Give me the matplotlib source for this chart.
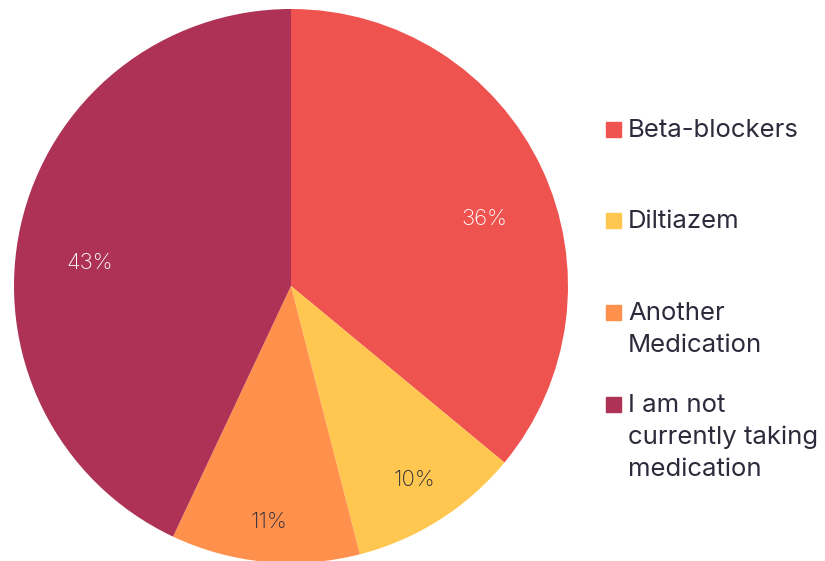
import matplotlib.pyplot as plt
import matplotlib.patches as mpatches
import numpy as np

labels = ["Beta-blockers", "Diltiazem", "Another\nMedication",
          "I am not\ncurrently taking\nmedication"]
values = [36, 10, 11, 43]
colors = ["#EF5350", "#FFC74F", "#FF914D", "#AD3256"]
pct_colors = ["white", "#2B2B3B", "#2B2B3B", "white"]

# label placement (fraction of radius, angle nudge in degrees)
pct_r = [0.74, 0.83, 0.855, 0.73]
pct_nudge = [-6, 0, 0, 6]

plt.rcParams['font.family'] = ['Inter', 'DejaVu Sans']

fig = plt.figure(figsize=(8.25, 5.61), dpi=100)
ax = fig.add_axes([14/825, -2/561, 554/825, 554/561])

wedges, _ = ax.pie(values, colors=colors, startangle=90, counterclock=False,
                   wedgeprops=dict(linewidth=0))
ax.set_xlim(-1, 1)
ax.set_ylim(-1, 1)
ax.set_aspect('equal')

for w, v, r, n, c in zip(wedges, values, pct_r, pct_nudge, pct_colors):
    ang = np.deg2rad((w.theta1 + w.theta2) / 2 + n)
    ax.text(r*np.cos(ang), r*np.sin(ang), f"{v}%", ha='center', va='center',
            fontsize=16, color=c, fontweight='light')

# legend drawn by hand, pixel baselines of first line
W, H = 825, 561
baselines = [137, 228, 320, 412]
step = 32
for lab, col, y in zip(labels, colors, baselines):
    fig.patches.append(mpatches.Rectangle((606/W, 1 - (y)/H), 15/W, 15/H,
                                          transform=fig.transFigure, color=col))
    for i, line in enumerate(lab.split("\n")):
        fig.text(628/W, 1 - (y + i*step)/H, line, ha='left', va='baseline',
                 fontsize=18.5, color="#2B2B3B")

fig.savefig("out.png", dpi=100)
